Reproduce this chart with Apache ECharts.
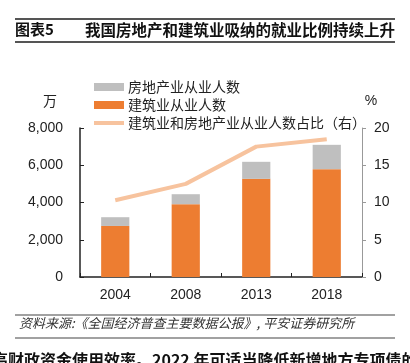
<!DOCTYPE html>
<html><head><meta charset="utf-8">
<script src="https://cdn.jsdelivr.net/npm/echarts@6/dist/echarts.min.js"></script>
<style>html,body{margin:0;padding:0;background:#fff}#c{width:410px;height:363px}</style>
</head><body><div id="c"></div>
<script>
var categories = ['2004', '2008', '2013', '2018'];
var construction = [2740, 3910, 5270, 5790];
var realEstate = [470, 535, 915, 1307];
var sharePct = [10.3, 12.5, 17.5, 18.5];
var leftTicks = [0, 2000, 4000, 6000, 8000];
var rightTicks = [0, 5, 10, 15, 20];

var FONT = '"Liberation Sans", Arial, "Noto Sans CJK SC", sans-serif';
var CJK = '"Noto Sans CJK SC", sans-serif';
var chart = echarts.init(document.getElementById('c'), null, {renderer: 'canvas'});
chart.setOption({
  animation: false,
  backgroundColor: '#fff',
  grid: {left: 80, right: 48, top: 128, bottom: 86, containLabel: false},
  legend: {
    orient: 'vertical', left: 89, top: 75, itemWidth: 30, itemHeight: 8, itemGap: 4,
    textStyle: {fontFamily: CJK, fontSize: 14, color: '#222', padding: [0,0,0,-1]},
    data: [
      {name: '房地产业从业人数', icon: 'rect'},
      {name: '建筑业从业人数', icon: 'rect'},
      {name: '建筑业和房地产业从业人数占比（右）', icon: 'path://M0,0 L30,0 L30,4 L0,4 Z'}
    ]
  },
  xAxis: {
    type: 'category', data: categories,
    axisLine: {lineStyle: {color: '#222', width: 1.5}},
    axisTick: {show: true, inside: true, length: 4, lineStyle: {color: '#222'}},
    axisLabel: {fontFamily: FONT, fontSize: 14, color: '#222', margin: 11}
  },
  yAxis: [{
    type: 'value', min: leftTicks[0], max: leftTicks[leftTicks.length-1], interval: 2000,
    name: '万', nameLocation: 'end', nameGap: 20,
    nameTextStyle: {fontFamily: CJK, fontSize: 14, color: '#222', padding: [0, 60, 0, 0]},
    axisLine: {show: true, lineStyle: {color: '#222', width: 1.5}},
    axisTick: {show: true, inside: true, length: 4, lineStyle: {color: '#222'}},
    splitLine: {show: false},
    axisLabel: {fontFamily: FONT, fontSize: 14, color: '#222', margin: 17,
      formatter: function (v) { return v.toLocaleString('en-US'); }}
  }, {
    type: 'value', min: rightTicks[0], max: rightTicks[rightTicks.length-1], interval: 5,
    name: '%', nameLocation: 'end', nameGap: 20,
    nameTextStyle: {fontFamily: FONT, fontSize: 14, color: '#222', padding: [0, 0, 0, 18]},
    axisLine: {show: true, lineStyle: {color: '#999', width: 1}},
    axisTick: {show: true, inside: false, length: 4, lineStyle: {color: '#999'}},
    splitLine: {show: false},
    axisLabel: {fontFamily: FONT, fontSize: 14, color: '#222', margin: 12}
  }],
  series: [{
    name: '建筑业从业人数', type: 'bar', stack: 'a', data: construction, barWidth: '40%',
    itemStyle: {color: '#ED7D31'}
  }, {
    name: '房地产业从业人数', type: 'bar', stack: 'a', data: realEstate, barWidth: '40%',
    itemStyle: {color: '#BFBFBF'}
  }, {
    name: '建筑业和房地产业从业人数占比（右）', type: 'line', yAxisIndex: 1, data: sharePct,
    symbol: 'none', lineStyle: {color: '#F7C39E', width: 4}, itemStyle: {color: '#F7C39E'}
  }],
  graphic: [
    {type: 'line', shape: {x1: 15, y1: 19, x2: 395, y2: 19}, style: {stroke: '#555', lineWidth: 2}},
    {type: 'line', shape: {x1: 15, y1: 42, x2: 395, y2: 42}, style: {stroke: '#555', lineWidth: 2}},
    {type: 'text', left: 15, top: 22, style: {text: '图表5', font: 'bold 15px ' + CJK, fill: '#111'}},
    {type: 'text', left: 85, top: 22, style: {text: '我国房地产和建筑业吸纳的就业比例持续上升', font: 'bold 15.5px ' + CJK, fill: '#111'}},
    {type: 'line', shape: {x1: 15, y1: 315, x2: 395, y2: 315}, style: {stroke: '#444', lineWidth: 1.2}},
    {type: 'line', shape: {x1: 15, y1: 338, x2: 395, y2: 338}, style: {stroke: '#444', lineWidth: 1.2}},
    {type: 'text', left: 19, top: 317, style: {text: '资料来源:《全国经济普查主要数据公报》, 平安证券研究所', font: 'italic 13px ' + CJK, fill: '#333'}},
    {type: 'text', left: -8, top: 352, style: {text: '高财政资金使用效率。2022 年可适当降低新增地方专项债的', font: 'bold 16px ' + CJK, fill: '#111'}}
  ]
});
</script></body></html>
